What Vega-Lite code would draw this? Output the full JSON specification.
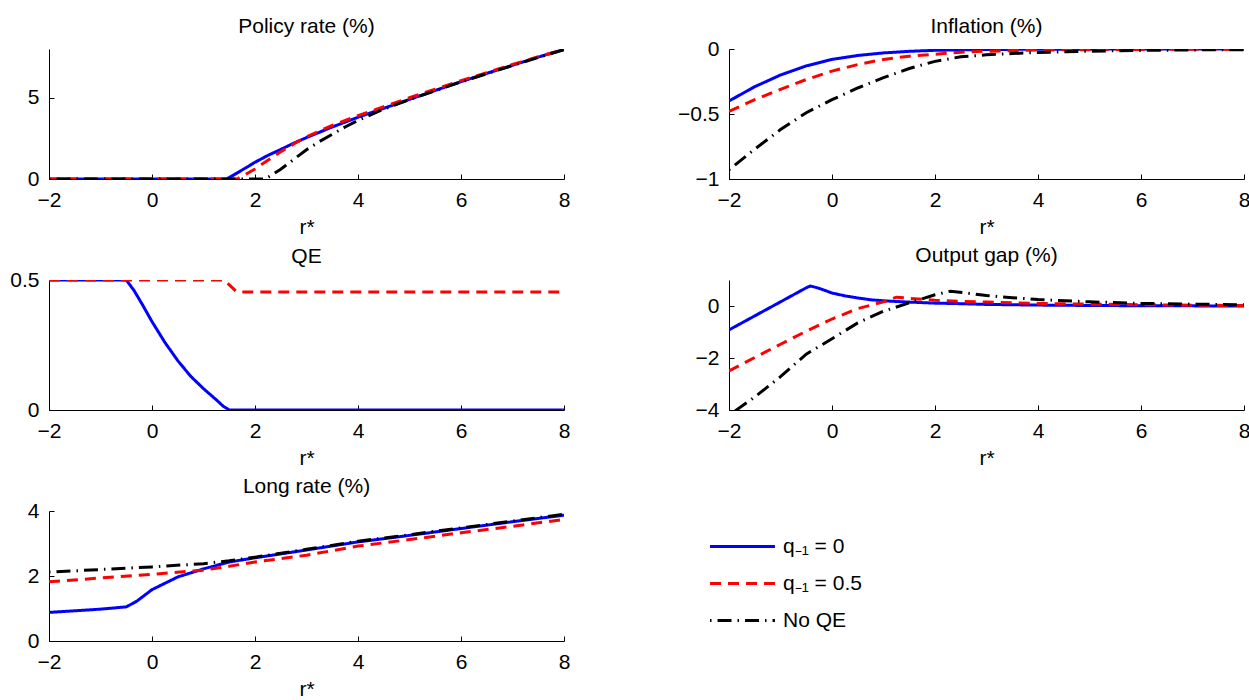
{
  "$schema": "https://vega.github.io/schema/vega-lite/v6.json",
  "padding": {"left": 9, "top": 16, "right": 5, "bottom": 5},
  "background": "white",
  "datasets": {
    "d": [
      {"p":"policy","s":"q₋₁ = 0","x":-2,"y":0},{"p":"policy","s":"q₋₁ = 0","x":0,"y":0},{"p":"policy","s":"q₋₁ = 0","x":1.45,"y":0},{"p":"policy","s":"q₋₁ = 0","x":1.75,"y":0.55},{"p":"policy","s":"q₋₁ = 0","x":2,"y":1.03},{"p":"policy","s":"q₋₁ = 0","x":2.25,"y":1.45},{"p":"policy","s":"q₋₁ = 0","x":2.5,"y":1.82},{"p":"policy","s":"q₋₁ = 0","x":2.75,"y":2.2},{"p":"policy","s":"q₋₁ = 0","x":3,"y":2.55},{"p":"policy","s":"q₋₁ = 0","x":3.5,"y":3.2},{"p":"policy","s":"q₋₁ = 0","x":4,"y":3.8},{"p":"policy","s":"q₋₁ = 0","x":4.5,"y":4.35},{"p":"policy","s":"q₋₁ = 0","x":5,"y":4.9},{"p":"policy","s":"q₋₁ = 0","x":5.5,"y":5.45},{"p":"policy","s":"q₋₁ = 0","x":6,"y":5.99},{"p":"policy","s":"q₋₁ = 0","x":6.5,"y":6.5},{"p":"policy","s":"q₋₁ = 0","x":7,"y":7.0},{"p":"policy","s":"q₋₁ = 0","x":7.5,"y":7.5},{"p":"policy","s":"q₋₁ = 0","x":8,"y":7.97},
      {"p":"policy","s":"q₋₁ = 0.5","x":-2,"y":0},{"p":"policy","s":"q₋₁ = 0.5","x":0,"y":0},{"p":"policy","s":"q₋₁ = 0.5","x":1.65,"y":0},{"p":"policy","s":"q₋₁ = 0.5","x":1.8,"y":0.25},{"p":"policy","s":"q₋₁ = 0.5","x":2,"y":0.62},{"p":"policy","s":"q₋₁ = 0.5","x":2.25,"y":1.15},{"p":"policy","s":"q₋₁ = 0.5","x":2.5,"y":1.68},{"p":"policy","s":"q₋₁ = 0.5","x":2.75,"y":2.15},{"p":"policy","s":"q₋₁ = 0.5","x":3,"y":2.6},{"p":"policy","s":"q₋₁ = 0.5","x":3.5,"y":3.3},{"p":"policy","s":"q₋₁ = 0.5","x":4,"y":3.9},{"p":"policy","s":"q₋₁ = 0.5","x":4.5,"y":4.45},{"p":"policy","s":"q₋₁ = 0.5","x":5,"y":5.0},{"p":"policy","s":"q₋₁ = 0.5","x":5.5,"y":5.53},{"p":"policy","s":"q₋₁ = 0.5","x":6,"y":6.05},{"p":"policy","s":"q₋₁ = 0.5","x":6.5,"y":6.55},{"p":"policy","s":"q₋₁ = 0.5","x":7,"y":7.05},{"p":"policy","s":"q₋₁ = 0.5","x":7.5,"y":7.52},{"p":"policy","s":"q₋₁ = 0.5","x":8,"y":7.98},
      {"p":"policy","s":"No QE","x":-2,"y":0},{"p":"policy","s":"No QE","x":0,"y":0},{"p":"policy","s":"No QE","x":2.2,"y":0},{"p":"policy","s":"No QE","x":2.5,"y":0.6},{"p":"policy","s":"No QE","x":2.75,"y":1.2},{"p":"policy","s":"No QE","x":3,"y":1.8},{"p":"policy","s":"No QE","x":3.25,"y":2.3},{"p":"policy","s":"No QE","x":3.5,"y":2.75},{"p":"policy","s":"No QE","x":3.75,"y":3.2},{"p":"policy","s":"No QE","x":4,"y":3.6},{"p":"policy","s":"No QE","x":4.5,"y":4.3},{"p":"policy","s":"No QE","x":5,"y":4.88},{"p":"policy","s":"No QE","x":5.5,"y":5.43},{"p":"policy","s":"No QE","x":6,"y":5.97},{"p":"policy","s":"No QE","x":6.5,"y":6.48},{"p":"policy","s":"No QE","x":7,"y":6.98},{"p":"policy","s":"No QE","x":7.5,"y":7.48},{"p":"policy","s":"No QE","x":8,"y":7.96},

      {"p":"infl","s":"q₋₁ = 0","x":-2,"y":-0.40},{"p":"infl","s":"q₋₁ = 0","x":-1.5,"y":-0.29},{"p":"infl","s":"q₋₁ = 0","x":-1,"y":-0.20},{"p":"infl","s":"q₋₁ = 0","x":-0.5,"y":-0.13},{"p":"infl","s":"q₋₁ = 0","x":0,"y":-0.08},{"p":"infl","s":"q₋₁ = 0","x":0.5,"y":-0.05},{"p":"infl","s":"q₋₁ = 0","x":1,"y":-0.03},{"p":"infl","s":"q₋₁ = 0","x":1.5,"y":-0.018},{"p":"infl","s":"q₋₁ = 0","x":2,"y":-0.01},{"p":"infl","s":"q₋₁ = 0","x":3,"y":-0.004},{"p":"infl","s":"q₋₁ = 0","x":4,"y":-0.002},{"p":"infl","s":"q₋₁ = 0","x":6,"y":0},{"p":"infl","s":"q₋₁ = 0","x":8,"y":0},
      {"p":"infl","s":"q₋₁ = 0.5","x":-2,"y":-0.48},{"p":"infl","s":"q₋₁ = 0.5","x":-1.5,"y":-0.39},{"p":"infl","s":"q₋₁ = 0.5","x":-1,"y":-0.31},{"p":"infl","s":"q₋₁ = 0.5","x":-0.5,"y":-0.235},{"p":"infl","s":"q₋₁ = 0.5","x":0,"y":-0.17},{"p":"infl","s":"q₋₁ = 0.5","x":0.5,"y":-0.12},{"p":"infl","s":"q₋₁ = 0.5","x":1,"y":-0.08},{"p":"infl","s":"q₋₁ = 0.5","x":1.5,"y":-0.055},{"p":"infl","s":"q₋₁ = 0.5","x":2,"y":-0.04},{"p":"infl","s":"q₋₁ = 0.5","x":2.5,"y":-0.025},{"p":"infl","s":"q₋₁ = 0.5","x":3,"y":-0.017},{"p":"infl","s":"q₋₁ = 0.5","x":4,"y":-0.008},{"p":"infl","s":"q₋₁ = 0.5","x":5,"y":-0.005},{"p":"infl","s":"q₋₁ = 0.5","x":6,"y":-0.003},{"p":"infl","s":"q₋₁ = 0.5","x":8,"y":-0.002},
      {"p":"infl","s":"No QE","x":-2,"y":-0.93},{"p":"infl","s":"No QE","x":-1.5,"y":-0.77},{"p":"infl","s":"No QE","x":-1,"y":-0.62},{"p":"infl","s":"No QE","x":-0.5,"y":-0.49},{"p":"infl","s":"No QE","x":0,"y":-0.39},{"p":"infl","s":"No QE","x":0.5,"y":-0.30},{"p":"infl","s":"No QE","x":1,"y":-0.22},{"p":"infl","s":"No QE","x":1.5,"y":-0.15},{"p":"infl","s":"No QE","x":2,"y":-0.095},{"p":"infl","s":"No QE","x":2.5,"y":-0.06},{"p":"infl","s":"No QE","x":3,"y":-0.045},{"p":"infl","s":"No QE","x":3.5,"y":-0.035},{"p":"infl","s":"No QE","x":4,"y":-0.027},{"p":"infl","s":"No QE","x":5,"y":-0.017},{"p":"infl","s":"No QE","x":6,"y":-0.011},{"p":"infl","s":"No QE","x":7,"y":-0.007},{"p":"infl","s":"No QE","x":8,"y":-0.005},

      {"p":"qe","s":"q₋₁ = 0","x":-2,"y":0.5},{"p":"qe","s":"q₋₁ = 0","x":-0.5,"y":0.5},{"p":"qe","s":"q₋₁ = 0","x":-0.35,"y":0.46},{"p":"qe","s":"q₋₁ = 0","x":-0.2,"y":0.41},{"p":"qe","s":"q₋₁ = 0","x":0,"y":0.34},{"p":"qe","s":"q₋₁ = 0","x":0.25,"y":0.26},{"p":"qe","s":"q₋₁ = 0","x":0.5,"y":0.19},{"p":"qe","s":"q₋₁ = 0","x":0.75,"y":0.13},{"p":"qe","s":"q₋₁ = 0","x":1,"y":0.082},{"p":"qe","s":"q₋₁ = 0","x":1.25,"y":0.039},{"p":"qe","s":"q₋₁ = 0","x":1.38,"y":0.015},{"p":"qe","s":"q₋₁ = 0","x":1.5,"y":0},{"p":"qe","s":"q₋₁ = 0","x":8,"y":0},
      {"p":"qe","s":"q₋₁ = 0.5","x":-2,"y":0.5},{"p":"qe","s":"q₋₁ = 0.5","x":1.4,"y":0.5},{"p":"qe","s":"q₋₁ = 0.5","x":1.65,"y":0.454},{"p":"qe","s":"q₋₁ = 0.5","x":8,"y":0.454},

      {"p":"gap","s":"q₋₁ = 0","x":-2,"y":-0.92},{"p":"gap","s":"q₋₁ = 0","x":-1.5,"y":-0.38},{"p":"gap","s":"q₋₁ = 0","x":-1,"y":0.16},{"p":"gap","s":"q₋₁ = 0","x":-0.5,"y":0.7},{"p":"gap","s":"q₋₁ = 0","x":-0.42,"y":0.77},{"p":"gap","s":"q₋₁ = 0","x":-0.25,"y":0.68},{"p":"gap","s":"q₋₁ = 0","x":0,"y":0.5},{"p":"gap","s":"q₋₁ = 0","x":0.25,"y":0.39},{"p":"gap","s":"q₋₁ = 0","x":0.5,"y":0.31},{"p":"gap","s":"q₋₁ = 0","x":0.75,"y":0.24},{"p":"gap","s":"q₋₁ = 0","x":1,"y":0.2},{"p":"gap","s":"q₋₁ = 0","x":1.5,"y":0.15},{"p":"gap","s":"q₋₁ = 0","x":2,"y":0.11},{"p":"gap","s":"q₋₁ = 0","x":2.5,"y":0.09},{"p":"gap","s":"q₋₁ = 0","x":3,"y":0.06},{"p":"gap","s":"q₋₁ = 0","x":4,"y":0.035},{"p":"gap","s":"q₋₁ = 0","x":5,"y":0.02},{"p":"gap","s":"q₋₁ = 0","x":6,"y":0.01},{"p":"gap","s":"q₋₁ = 0","x":7,"y":0.005},{"p":"gap","s":"q₋₁ = 0","x":8,"y":0},
      {"p":"gap","s":"q₋₁ = 0.5","x":-2,"y":-2.5},{"p":"gap","s":"q₋₁ = 0.5","x":-1.5,"y":-1.98},{"p":"gap","s":"q₋₁ = 0.5","x":-1,"y":-1.47},{"p":"gap","s":"q₋₁ = 0.5","x":-0.5,"y":-0.97},{"p":"gap","s":"q₋₁ = 0.5","x":0,"y":-0.5},{"p":"gap","s":"q₋₁ = 0.5","x":0.5,"y":-0.1},{"p":"gap","s":"q₋₁ = 0.5","x":1,"y":0.16},{"p":"gap","s":"q₋₁ = 0.5","x":1.25,"y":0.34},{"p":"gap","s":"q₋₁ = 0.5","x":1.6,"y":0.28},{"p":"gap","s":"q₋₁ = 0.5","x":2,"y":0.22},{"p":"gap","s":"q₋₁ = 0.5","x":2.5,"y":0.18},{"p":"gap","s":"q₋₁ = 0.5","x":3,"y":0.15},{"p":"gap","s":"q₋₁ = 0.5","x":4,"y":0.1},{"p":"gap","s":"q₋₁ = 0.5","x":5,"y":0.07},{"p":"gap","s":"q₋₁ = 0.5","x":6,"y":0.05},{"p":"gap","s":"q₋₁ = 0.5","x":7,"y":0.03},{"p":"gap","s":"q₋₁ = 0.5","x":8,"y":0.02},
      {"p":"gap","s":"No QE","x":-2,"y":-4.2},{"p":"gap","s":"No QE","x":-1.5,"y":-3.5},{"p":"gap","s":"No QE","x":-1,"y":-2.72},{"p":"gap","s":"No QE","x":-0.5,"y":-1.85},{"p":"gap","s":"No QE","x":0,"y":-1.26},{"p":"gap","s":"No QE","x":0.5,"y":-0.65},{"p":"gap","s":"No QE","x":1,"y":-0.2},{"p":"gap","s":"No QE","x":1.5,"y":0.12},{"p":"gap","s":"No QE","x":2,"y":0.43},{"p":"gap","s":"No QE","x":2.3,"y":0.57},{"p":"gap","s":"No QE","x":2.6,"y":0.5},{"p":"gap","s":"No QE","x":3,"y":0.4},{"p":"gap","s":"No QE","x":3.5,"y":0.32},{"p":"gap","s":"No QE","x":4,"y":0.25},{"p":"gap","s":"No QE","x":5,"y":0.16},{"p":"gap","s":"No QE","x":6,"y":0.1},{"p":"gap","s":"No QE","x":7,"y":0.07},{"p":"gap","s":"No QE","x":8,"y":0.05},

      {"p":"long","s":"q₋₁ = 0","x":-2,"y":0.88},{"p":"long","s":"q₋₁ = 0","x":-1.5,"y":0.93},{"p":"long","s":"q₋₁ = 0","x":-1,"y":0.98},{"p":"long","s":"q₋₁ = 0","x":-0.5,"y":1.05},{"p":"long","s":"q₋₁ = 0","x":-0.3,"y":1.22},{"p":"long","s":"q₋₁ = 0","x":0,"y":1.58},{"p":"long","s":"q₋₁ = 0","x":0.5,"y":1.97},{"p":"long","s":"q₋₁ = 0","x":1,"y":2.22},{"p":"long","s":"q₋₁ = 0","x":1.5,"y":2.43},{"p":"long","s":"q₋₁ = 0","x":2,"y":2.56},{"p":"long","s":"q₋₁ = 0","x":3,"y":2.8},{"p":"long","s":"q₋₁ = 0","x":4,"y":3.05},{"p":"long","s":"q₋₁ = 0","x":5,"y":3.25},{"p":"long","s":"q₋₁ = 0","x":6,"y":3.46},{"p":"long","s":"q₋₁ = 0","x":7,"y":3.67},{"p":"long","s":"q₋₁ = 0","x":8,"y":3.87},
      {"p":"long","s":"q₋₁ = 0.5","x":-2,"y":1.82},{"p":"long","s":"q₋₁ = 0.5","x":-1,"y":1.94},{"p":"long","s":"q₋₁ = 0.5","x":0,"y":2.05},{"p":"long","s":"q₋₁ = 0.5","x":1,"y":2.18},{"p":"long","s":"q₋₁ = 0.5","x":1.5,"y":2.3},{"p":"long","s":"q₋₁ = 0.5","x":2,"y":2.43},{"p":"long","s":"q₋₁ = 0.5","x":3,"y":2.64},{"p":"long","s":"q₋₁ = 0.5","x":4,"y":2.92},{"p":"long","s":"q₋₁ = 0.5","x":5,"y":3.12},{"p":"long","s":"q₋₁ = 0.5","x":6,"y":3.33},{"p":"long","s":"q₋₁ = 0.5","x":7,"y":3.53},{"p":"long","s":"q₋₁ = 0.5","x":8,"y":3.74},
      {"p":"long","s":"No QE","x":-2,"y":2.12},{"p":"long","s":"No QE","x":-1,"y":2.2},{"p":"long","s":"No QE","x":0,"y":2.28},{"p":"long","s":"No QE","x":1,"y":2.38},{"p":"long","s":"No QE","x":1.5,"y":2.47},{"p":"long","s":"No QE","x":2,"y":2.58},{"p":"long","s":"No QE","x":3,"y":2.82},{"p":"long","s":"No QE","x":4,"y":3.07},{"p":"long","s":"No QE","x":5,"y":3.27},{"p":"long","s":"No QE","x":6,"y":3.48},{"p":"long","s":"No QE","x":7,"y":3.69},{"p":"long","s":"No QE","x":8,"y":3.9}
    ]
  },
  "data": {"name": "d"},
  "columns": 2,
  "bounds": "flush",
  "spacing": {"row": 101, "column": 165},
  "concat": [
    {
      "title": {"text": "Policy rate (%)", "offset": 12},
      "width": 515, "height": 130,
      "transform": [{"filter": "datum.p === 'policy'"}],
      "mark": {"type": "line", "strokeWidth": 3, "clip": true},
      "encoding": {
        "x": {"field": "x", "type": "quantitative", "scale": {"domain": [-2, 8], "nice": false}, "axis": {"values": [-2,0,2,4,6,8], "title": "r*"}},
        "y": {"field": "y", "type": "quantitative", "scale": {"domain": [0, 8], "nice": false, "zero": false}, "axis": {"values": [0,5], "title": null}},
        "color": {"field": "s", "type": "nominal", "scale": {"domain": ["q₋₁ = 0","q₋₁ = 0.5","No QE"], "range": ["#0000ff","#ff0000","#000000"]}},
        "strokeDash": {"field": "s", "type": "nominal", "scale": {"domain": ["q₋₁ = 0","q₋₁ = 0.5","No QE"], "range": [[1,0],[11,7],[1.5,6,14,6]]}}
      }
    },
    {
      "title": {"text": "Inflation (%)", "offset": 1},
      "width": 515, "height": 130,
      "transform": [{"filter": "datum.p === 'infl'"}],
      "mark": {"type": "line", "strokeWidth": 3, "clip": true},
      "encoding": {
        "x": {"field": "x", "type": "quantitative", "scale": {"domain": [-2, 8], "nice": false}, "axis": {"values": [-2,0,2,4,6,8], "title": "r*"}},
        "y": {"field": "y", "type": "quantitative", "scale": {"domain": [-1, 0], "nice": false, "zero": false}, "axis": {"values": [-1,-0.5,0], "title": null}},
        "color": {"field": "s", "type": "nominal"},
        "strokeDash": {"field": "s", "type": "nominal"}
      }
    },
    {
      "title": {"text": "QE", "offset": 2},
      "width": 515, "height": 130,
      "transform": [{"filter": "datum.p === 'qe'"}],
      "mark": {"type": "line", "strokeWidth": 3, "clip": true},
      "encoding": {
        "x": {"field": "x", "type": "quantitative", "scale": {"domain": [-2, 8], "nice": false}, "axis": {"values": [-2,0,2,4,6,8], "title": "r*"}},
        "y": {"field": "y", "type": "quantitative", "scale": {"domain": [0, 0.5], "nice": false, "zero": false}, "axis": {"values": [0,0.5], "title": null}},
        "color": {"field": "s", "type": "nominal"},
        "strokeDash": {"field": "s", "type": "nominal"}
      }
    },
    {
      "title": {"text": "Output gap (%)", "offset": 14},
      "width": 515, "height": 130,
      "transform": [{"filter": "datum.p === 'gap'"}],
      "mark": {"type": "line", "strokeWidth": 3, "clip": true},
      "encoding": {
        "x": {"field": "x", "type": "quantitative", "scale": {"domain": [-2, 8], "nice": false}, "axis": {"values": [-2,0,2,4,6,8], "title": "r*"}},
        "y": {"field": "y", "type": "quantitative", "scale": {"domain": [-4, 1], "nice": false, "zero": false}, "axis": {"values": [-4,-2,0], "title": null}},
        "color": {"field": "s", "type": "nominal"},
        "strokeDash": {"field": "s", "type": "nominal"}
      }
    },
    {
      "title": {"text": "Long rate (%)", "offset": 3},
      "width": 515, "height": 130,
      "transform": [{"filter": "datum.p === 'long'"}],
      "mark": {"type": "line", "strokeWidth": 3, "clip": true},
      "encoding": {
        "x": {"field": "x", "type": "quantitative", "scale": {"domain": [-2, 8], "nice": false}, "axis": {"values": [-2,0,2,4,6,8], "title": "r*"}},
        "y": {"field": "y", "type": "quantitative", "scale": {"domain": [0, 4], "nice": false, "zero": false}, "axis": {"values": [0,2,4], "title": null}},
        "color": {"field": "s", "type": "nominal"},
        "strokeDash": {"field": "s", "type": "nominal"}
      }
    }
  ],
  "resolve": {"scale": {"x": "independent", "y": "independent", "color": "shared", "strokeDash": "shared"}},
  "config": {
    "font": "Liberation Sans",
    "view": {"stroke": null},
    "axis": {
      "grid": false,
      "labelFontSize": 21,
      "titleFontSize": 21,
      "titleFontWeight": "normal",
      "labelColor": "black",
      "titleColor": "black",
      "domainColor": "black",
      "tickColor": "black",
      "tickSize": -5,
      "labelPadding": 15,
      "titlePadding": 6,
      "format": "~g",
      "labelFlush": false,
      "labelOverlap": false
    },
    "title": {"fontSize": 21, "fontWeight": "normal", "color": "black"},
    "legend": {
      "orient": "none",
      "legendX": 675,
      "legendY": 479,
      "title": null,
      "symbolType": "M-1.91,0H1.91",
      "symbolSize": 1156,
      "symbolStrokeWidth": 3,
      "labelFontSize": 21,
      "labelColor": "black",
      "rowPadding": 8,
      "labelOffset": 22
    }
  }
}
